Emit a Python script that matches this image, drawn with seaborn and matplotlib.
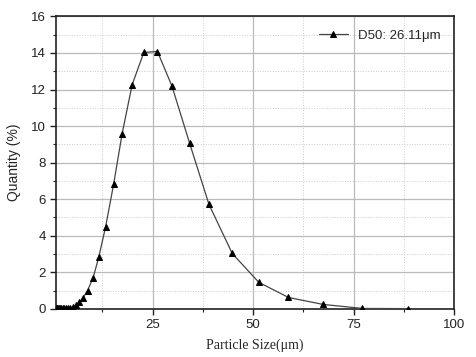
import numpy as np
import pandas as pd
import matplotlib
matplotlib.use("Agg")
import matplotlib.pyplot as plt
import seaborn as sns
from matplotlib.ticker import MultipleLocator

# particle size distribution
size_um = [1.0, 1.15, 1.3, 1.5, 1.7, 2.0, 2.3, 2.6, 3.0, 3.5, 4.0, 4.5, 5.2,
           6.0, 6.8, 7.7, 8.8, 10.2, 11.6, 13.3, 15.3, 17.4, 19.9, 22.8,
           26.2, 29.8, 34.2, 39.0, 44.8, 51.4, 58.8, 67.4, 77.2, 88.6]
quantity = [0.02, 0.02, 0.02, 0.02, 0.02, 0.02, 0.02, 0.03, 0.03, 0.03, 0.04, 0.05, 0.08,
            0.2, 0.37, 0.6, 1.0, 1.7, 2.83, 4.49, 6.82, 9.57, 12.26, 14.03,
            14.08, 12.19, 9.06, 5.72, 3.03, 1.45, 0.62, 0.24, 0.02, 0.01]
legend_label = "D50: 26.11μm"

df = pd.DataFrame({"size": size_um, "quantity": quantity})

sns.set_style("white")
plt.rcParams['font.family'] = ['Liberation Sans', 'DejaVu Sans']

fig = plt.figure(figsize=(4.76, 3.57), dpi=100)
ax = fig.add_axes([0.118, 0.135, 0.836, 0.819])

sns.lineplot(data=df, x="size", y="quantity", ax=ax, color="#444444", linewidth=0.9,
             marker="^", markersize=5, markerfacecolor="black", markeredgecolor="black",
             label=legend_label, zorder=3)

ax.set_xlim(1, 100)
ax.set_ylim(0, 16)
ax.xaxis.set_major_locator(MultipleLocator(25))
ax.xaxis.set_minor_locator(MultipleLocator(12.5))
ax.yaxis.set_major_locator(MultipleLocator(2))
ax.yaxis.set_minor_locator(MultipleLocator(1))

ax.grid(which="major", color="#bbbbbb", linewidth=0.9, linestyle="-")
ax.grid(which="minor", color="#cccccc", linewidth=0.7, linestyle=":")
ax.set_axisbelow(True)

for s in ax.spines.values():
    s.set_color("#222222")
    s.set_linewidth(1.2)

ax.tick_params(which="major", direction="out", length=4, width=1, colors="#222222",
               labelsize=9.5, bottom=True, left=True)
ax.tick_params(which="minor", direction="out", length=2, width=0.8, colors="#222222",
               bottom=True, left=True)

ax.set_xlabel("Particle Size(μm)", family=["Liberation Serif", "DejaVu Serif"],
              fontsize=10, labelpad=5)
ax.set_ylabel("Quantity (%)", fontsize=10, labelpad=7)

leg = ax.legend(loc="upper right", frameon=False, fontsize=9.5, handlelength=2.2,
                borderaxespad=0.6)

fig.savefig("out.png", dpi=100)
